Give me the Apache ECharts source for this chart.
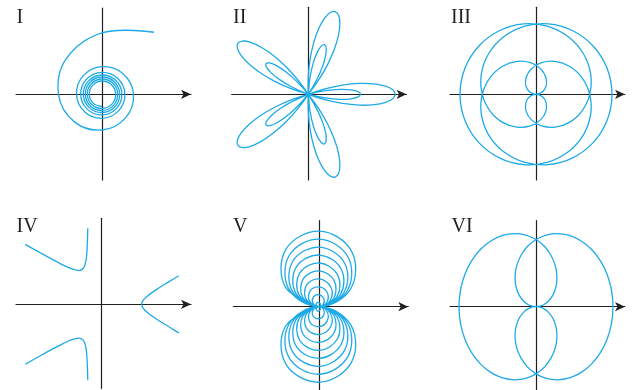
<!DOCTYPE html>
<html lang="en">
<head>
<meta charset="UTF-8">
<title>Polar curves I-VI</title>
<script src="https://cdn.jsdelivr.net/npm/echarts@6.0.0/dist/echarts.min.js"></script>
<style>
    html, body { margin: 0; padding: 0; background: #fff; }
    #chart { width: 636px; height: 390px; }
</style>
</head>
<body>
<div id="chart"></div>
<script>
// panel labels
var labels = ['I', 'II', 'III', 'IV', 'V', 'VI'];

// every curve is a list of [theta in degrees, r]  (r may be negative)
// I : inward spiral
var spiral = [[50, 8.1], [90, 6.15], [135, 5.05], [180, 4.35], [225, 3.9], [270, 3.57], [315, 3.33], [360, 3.15],
    [405, 2.94], [450, 2.76], [495, 2.64], [540, 2.55], [585, 2.47], [630, 2.4], [675, 2.34], [720, 2.29],
    [765, 2.24], [810, 2.2], [855, 2.16], [900, 2.13], [945, 2.1], [990, 2.06], [1035, 2.02], [1080, 1.99],
    [1125, 1.96], [1170, 1.93], [1215, 1.9], [1260, 1.87], [1305, 1.845], [1350, 1.82], [1395, 1.795], [1440, 1.77],
    [1485, 1.75], [1530, 1.73], [1575, 1.7], [1620, 1.67], [1665, 1.645], [1710, 1.62], [1755, 1.595], [1800, 1.57],
    [1845, 1.55], [1890, 1.53], [1935, 1.5], [1980, 1.47], [2025, 1.445], [2070, 1.42], [2115, 1.395], [2160, 1.37],
    [2205, 1.35], [2250, 1.33], [2295, 1.3], [2340, 1.27], [2385, 1.245], [2430, 1.22]];

// II : five petals with inner loops
var rose = [[0, 5], [3, 4.864], [6, 4.464], [9, 3.828], [12, 3], [15, 2.035], [18, 1], [21, -0.035], [24, -1], [27, -1.828], [30, -2.464], [33, -2.864],
    [36, -3], [39, -2.864], [42, -2.464], [45, -1.828], [48, -1], [51, -0.035], [54, 1], [57, 2.035], [60, 3], [63, 3.828], [66, 4.464], [69, 4.864],
    [72, 5], [75, 4.864], [78, 4.464], [81, 3.828], [84, 3], [87, 2.035], [90, 1], [93, -0.035], [96, -1], [99, -1.828], [102, -2.464], [105, -2.864],
    [108, -3], [111, -2.864], [114, -2.464], [117, -1.828], [120, -1], [123, -0.035], [126, 1], [129, 2.035], [132, 3], [135, 3.828], [138, 4.464], [141, 4.864],
    [144, 5], [147, 4.864], [150, 4.464], [153, 3.828], [156, 3], [159, 2.035], [162, 1], [165, -0.035], [168, -1], [171, -1.828], [174, -2.464], [177, -2.864],
    [180, -3], [183, -2.864], [186, -2.464], [189, -1.828], [192, -1], [195, -0.035], [198, 1], [201, 2.035], [204, 3], [207, 3.828], [210, 4.464], [213, 4.864],
    [216, 5], [219, 4.864], [222, 4.464], [225, 3.828], [228, 3], [231, 2.035], [234, 1], [237, -0.035], [240, -1], [243, -1.828], [246, -2.464], [249, -2.864],
    [252, -3], [255, -2.864], [258, -2.464], [261, -1.828], [264, -1], [267, -0.035], [270, 1], [273, 2.035], [276, 3], [279, 3.828], [282, 4.464], [285, 4.864],
    [288, 5], [291, 4.864], [294, 4.464], [297, 3.828], [300, 3], [303, 2.035], [306, 1], [309, -0.035], [312, -1], [315, -1.828], [318, -2.464], [321, -2.864],
    [324, -3], [327, -2.864], [330, -2.464], [333, -1.828], [336, -1], [339, -0.035], [342, 1], [345, 2.035], [348, 3], [351, 3.828], [354, 4.464], [357, 4.864],
    [360, 5]];

// III : nested loops
var quarter = [[0, 0], [20, 0.0872], [40, 0.1736], [60, 0.2588], [80, 0.342], [100, 0.4226], [120, 0.5], [140, 0.5736], [160, 0.6428],
    [180, 0.7071], [200, 0.766], [220, 0.8192], [240, 0.866], [260, 0.9063], [280, 0.9397], [300, 0.9659], [320, 0.9848], [340, 0.9962],
    [360, 1], [380, 0.9962], [400, 0.9848], [420, 0.9659], [440, 0.9397], [460, 0.9063], [480, 0.866], [500, 0.8192], [520, 0.766],
    [540, 0.7071], [560, 0.6428], [580, 0.5736], [600, 0.5], [620, 0.4226], [640, 0.342], [660, 0.2588], [680, 0.1736], [700, 0.0872],
    [720, 0], [740, -0.0872], [760, -0.1736], [780, -0.2588], [800, -0.342], [820, -0.4226], [840, -0.5], [860, -0.5736], [880, -0.6428],
    [900, -0.7071], [920, -0.766], [940, -0.8192], [960, -0.866], [980, -0.9063], [1000, -0.9397], [1020, -0.9659], [1040, -0.9848], [1060, -0.9962],
    [1080, -1], [1100, -0.9962], [1120, -0.9848], [1140, -0.9659], [1160, -0.9397], [1180, -0.9063], [1200, -0.866], [1220, -0.8192], [1240, -0.766],
    [1260, -0.7071], [1280, -0.6428], [1300, -0.5736], [1320, -0.5], [1340, -0.4226], [1360, -0.342], [1380, -0.2588], [1400, -0.1736], [1420, -0.0872],
    [1440, 0]];

// IV : three branches
var branchRight = [[-20.3, 2.056], [-19, 1.836], [-17.5, 1.6427], [-15, 1.4142], [-12.5, 1.2604], [-10, 1.1547], [-7.5, 1.0824], [-5, 1.0353],
    [-2.5, 1.0087], [0, 1], [2.5, 1.0087], [5, 1.0353], [7.5, 1.0824], [10, 1.1547], [12.5, 1.2604], [15, 1.4142], [17.5, 1.6427], [19, 1.836], [20.3, 2.056]];
var branchUpper = [[100.4, 1.931], [101.5, 1.766], [102.5, 1.6427], [105, 1.4142], [107.5, 1.2604], [110, 1.1547], [112.5, 1.0824], [115, 1.0353],
    [117.5, 1.0087], [120, 1], [122.5, 1.0087], [125, 1.0353], [127.5, 1.0824], [130, 1.1547], [132.5, 1.2604], [135, 1.4142], [137.5, 1.6427],
    [140, 2], [141.9, 2.43]];
var branchLower = [[218.1, 2.43], [220, 2], [222.5, 1.6427], [225, 1.4142], [227.5, 1.2604], [230, 1.1547], [232.5, 1.0824], [235, 1.0353],
    [237.5, 1.0087], [240, 1], [242.5, 1.0087], [245, 1.0353], [247.5, 1.0824], [250, 1.1547], [252.5, 1.2604], [255, 1.4142], [257.5, 1.6427],
    [258.5, 1.766], [259.6, 1.931]];

// V : growing loops above and below
var loops = [[-1800, 0], [-1770, -15.45], [-1740, -26.3], [-1710, -29.85], [-1680, -25.39], [-1650, -14.4],
    [-1620, 0], [-1590, 13.88], [-1560, 23.58], [-1530, 26.7], [-1500, 22.67], [-1470, 12.83],
    [-1440, 0], [-1410, -12.3], [-1380, -20.86], [-1350, -23.56], [-1320, -19.95], [-1290, -11.26],
    [-1260, 0], [-1230, 10.73], [-1200, 18.14], [-1170, 20.42], [-1140, 17.23], [-1110, 9.69],
    [-1080, 0], [-1050, -9.16], [-1020, -15.42], [-990, -17.28], [-960, -14.51], [-930, -8.12],
    [-900, 0], [-870, 7.59], [-840, 12.7], [-810, 14.14], [-780, 11.79], [-750, 6.55],
    [-720, 0], [-690, -6.02], [-660, -9.98], [-630, -11], [-600, -9.07], [-570, -4.97],
    [-540, 0], [-510, 4.45], [-480, 7.26], [-450, 7.85], [-420, 6.35], [-390, 3.4],
    [-360, 0], [-330, -2.88], [-300, -4.53], [-270, -4.71], [-240, -3.63], [-210, -1.83],
    [-180, 0], [-150, 1.31], [-120, 1.81], [-90, 1.57], [-60, 0.91], [-30, 0.26],
    [0, 0], [30, 0.26], [60, 0.91], [90, 1.57], [120, 1.81], [150, 1.31],
    [180, 0], [210, -1.83], [240, -3.63], [270, -4.71], [300, -4.53], [330, -2.88],
    [360, 0], [390, 3.4], [420, 6.35], [450, 7.85], [480, 7.26], [510, 4.45],
    [540, 0], [570, -4.97], [600, -9.07], [630, -11], [660, -9.98], [690, -6.02],
    [720, 0], [750, 6.55], [780, 11.79], [810, 14.14], [840, 12.7], [870, 7.59],
    [900, 0], [930, -8.12], [960, -14.51], [990, -17.28], [1020, -15.42], [1050, -9.16],
    [1080, 0], [1110, 9.69], [1140, 17.23], [1170, 20.42], [1200, 18.14], [1230, 10.73],
    [1260, 0], [1290, -11.26], [1320, -19.95], [1350, -23.56], [1380, -20.86], [1410, -12.3],
    [1440, 0], [1470, 12.83], [1500, 22.67], [1530, 26.7], [1560, 23.58], [1590, 13.88],
    [1620, 0], [1650, -14.4], [1680, -25.39], [1710, -29.85], [1740, -26.3], [1770, -15.45],
    [1800, 0]];

// VI : two lobes with inner figure eight
var half = [[0, 0], [10, 0.0872], [20, 0.1736], [30, 0.2588], [40, 0.342], [50, 0.4226], [60, 0.5], [70, 0.5736], [80, 0.6428],
    [90, 0.7071], [100, 0.766], [110, 0.8192], [120, 0.866], [130, 0.9063], [140, 0.9397], [150, 0.9659], [160, 0.9848], [170, 0.9962],
    [180, 1], [190, 0.9962], [200, 0.9848], [210, 0.9659], [220, 0.9397], [230, 0.9063], [240, 0.866], [250, 0.8192], [260, 0.766],
    [270, 0.7071], [280, 0.6428], [290, 0.5736], [300, 0.5], [310, 0.4226], [320, 0.342], [330, 0.2588], [340, 0.1736], [350, 0.0872],
    [360, 0], [370, -0.0872], [380, -0.1736], [390, -0.2588], [400, -0.342], [410, -0.4226], [420, -0.5], [430, -0.5736], [440, -0.6428],
    [450, -0.7071], [460, -0.766], [470, -0.8192], [480, -0.866], [490, -0.9063], [500, -0.9397], [510, -0.9659], [520, -0.9848], [530, -0.9962],
    [540, -1], [550, -0.9962], [560, -0.9848], [570, -0.9659], [580, -0.9397], [590, -0.9063], [600, -0.866], [610, -0.8192], [620, -0.766],
    [630, -0.7071], [640, -0.6428], [650, -0.5736], [660, -0.5], [670, -0.4226], [680, -0.342], [690, -0.2588], [700, -0.1736], [710, -0.0872],
    [720, 0]];

// layout of each small plot in pixels: origin, axis extents, pixels per unit
var panels = [
    {ox: 102,   oy: 94.3,  x0: 16,    x1: 191,   y0: 8,     y1: 180,   ux: 10,   uy: 10},
    {ox: 308.3, oy: 94.3,  x0: 231.7, x1: 406.5, y0: 7.3,   y1: 180,   ux: 17.4, uy: 17.4},
    {ox: 536,   oy: 94.3,  x0: 450,   x1: 625,   y0: 7.3,   y1: 180,   ux: 76,   uy: 76},
    {ox: 101.7, oy: 304.3, x0: 16,    x1: 191,   y0: 218.3, y1: 388.3, ux: 40,   uy: 40},
    {ox: 319.3, oy: 306.7, x0: 233.3, x1: 408.3, y0: 220.7, y1: 390,   ux: 2.53, uy: 2.53},
    {ox: 536,   oy: 306.7, x0: 450,   x1: 625,   y0: 220.7, y1: 390,   ux: 77,   uy: 95}
];
var labelPos = [[16.5, 7.5], [233, 7.5], [451, 7.5], [16.5, 217], [233, 217], [451.5, 217]];

var curveColor = '#1eaae7';
var axisColor = '#231f20';

// polar point -> cartesian point
function toXY(pts) {
    return pts.map(function (p) {
        var a = p[0] * Math.PI / 180;
        return [p[1] * Math.cos(a), p[1] * Math.sin(a)];
    });
}

var grids = [], xAxes = [], yAxes = [];
panels.forEach(function (p, i) {
    grids.push({left: p.x0, top: p.y0, width: p.x1 - p.x0, height: p.y1 - p.y0, outerBoundsMode: 'none'});
    var common = {
        type: 'value', gridIndex: i,
        axisTick: {show: false}, axisLabel: {show: false}, splitLine: {show: false}
    };
    xAxes.push(Object.assign({}, common, {
        min: (p.x0 - p.ox) / p.ux, max: (p.x1 - p.ox) / p.ux,
        axisLine: {show: true, onZero: true, symbol: ['none', 'arrow'], symbolSize: [7, 10],
            lineStyle: {color: axisColor, width: 1.2}}
    }));
    yAxes.push(Object.assign({}, common, {
        min: (p.oy - p.y1) / p.uy, max: (p.oy - p.y0) / p.uy,
        axisLine: {show: true, onZero: true, lineStyle: {color: axisColor, width: 1.2}}
    }));
});

// the line series smooths monotonically in v6, so draw the curve as one smoothed polyline
function curve(idx, pts) {
    var xy = toXY(pts);
    return {
        type: 'custom', coordinateSystem: 'cartesian2d', xAxisIndex: idx, yAxisIndex: idx,
        data: xy, silent: true, clip: false,
        renderItem: function (params, api) {
            if (params.dataIndex !== 0) return null;
            return {
                type: 'polyline',
                shape: {points: xy.map(function (d) { return api.coord(d); }), smooth: 0.38},
                style: {stroke: curveColor, lineWidth: 1.3, fill: null}
            };
        }
    };
}

var chart = echarts.init(document.getElementById('chart'));
chart.setOption({
    backgroundColor: '#fff',
    animation: false,
    title: labels.map(function (t, i) {
        return {
            text: t, left: labelPos[i][0], top: labelPos[i][1], padding: 0,
            textStyle: {fontFamily: 'Liberation Serif', fontSize: 20, fontWeight: 'normal', color: axisColor}
        };
    }),
    grid: grids,
    xAxis: xAxes,
    yAxis: yAxes,
    series: [
        curve(0, spiral),
        curve(1, rose),
        curve(2, quarter),
        curve(3, branchRight),
        curve(3, branchUpper),
        curve(3, branchLower),
        curve(4, loops),
        curve(5, half)
    ]
});
</script>
</body>
</html>
